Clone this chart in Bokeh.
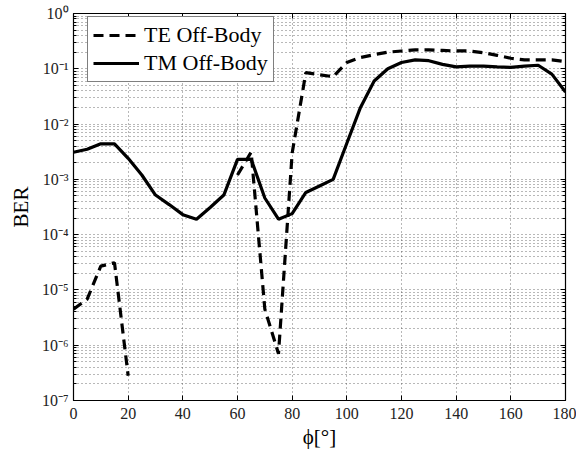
import math
from bokeh.plotting import figure
from bokeh.models import (FixedTicker, LinearAxis, LogAxis, CustomJSTickFormatter,
                          Legend, LegendItem, ColumnDataSource, Range1d)
from bokeh.embed import file_html
from bokeh.resources import INLINE

nan = float("nan")

phi = list(range(0, 181, 5))

te_ber = [4.5e-6, 6.8e-6, 2.7e-5, 3.1e-5, 2.8e-7,
          nan, nan, nan, nan, nan, nan, nan,
          1.2e-3, 3.1e-3, 4.5e-6, 7e-7, 3e-3, 8.5e-2, 7.8e-2, 7.2e-2,
          1.3e-1, 1.6e-1, 1.8e-1, 2.0e-1, 2.1e-1, 2.2e-1, 2.2e-1, 2.15e-1,
          2.1e-1, 2.1e-1, 1.95e-1, 1.75e-1, 1.55e-1, 1.45e-1, 1.45e-1, 1.45e-1, 1.35e-1]

tm_ber = [3.1e-3, 3.5e-3, 4.4e-3, 4.4e-3, 2.4e-3, 1.2e-3, 5.2e-4, 3.5e-4, 2.3e-4,
          1.9e-4, 3.1e-4, 5.2e-4, 2.3e-3, 2.3e-3, 4.6e-4, 1.9e-4, 2.4e-4, 5.8e-4,
          7.6e-4, 1.0e-3, 4.5e-3, 2.0e-2, 6.0e-2, 1.0e-1, 1.3e-1, 1.45e-1, 1.4e-1,
          1.2e-1, 1.08e-1, 1.12e-1, 1.12e-1, 1.08e-1, 1.06e-1, 1.12e-1, 1.16e-1,
          8.0e-2, 3.8e-2]

x_ticks = [0, 20, 40, 60, 80, 100, 120, 140, 160, 180]
y_decades = list(range(-7, 1))

FONT = "Liberation Serif"

major_y = [10.0 ** d for d in y_decades]
minor_y = [k * 10.0 ** d for d in y_decades[:-1] for k in range(2, 10)]
y_ticker = FixedTicker(ticks=major_y, minor_ticks=minor_y)
x_ticker = FixedTicker(ticks=x_ticks)

fmt_code = """
const e = Math.round(Math.log10(tick));
const sup = {'-':'\u207b','0':'\u2070','1':'\u00b9','2':'\u00b2','3':'\u00b3','4':'\u2074',
             '5':'\u2075','6':'\u2076','7':'\u2077','8':'\u2078','9':'\u2079'};
return '10' + String(e).split('').map(c => sup[c]).join('');
"""

p = figure(width=576, height=452, y_axis_type="log",
           x_range=Range1d(0, 180), y_range=Range1d(1e-7, 1),
           output_backend="svg", toolbar_location=None,
           min_border_left=73, min_border_right=11, min_border_top=13, min_border_bottom=52)

p.background_fill_color = "white"
p.border_fill_color = "white"
p.outline_line_color = "black"
p.outline_line_width = 1.2

src = ColumnDataSource(dict(phi=phi, te=te_ber, tm=tm_ber))
r_te = p.line("phi", "te", source=src, line_color="black", line_width=3.2, line_dash="10 6")
r_tm = p.line("phi", "tm", source=src, line_color="black", line_width=3.2)

# axes
xa = p.xaxis[0]
xa.ticker = x_ticker
xa.axis_label = "\u03d5[\u00b0]"
ya = p.yaxis[0]
ya.ticker = y_ticker
ya.formatter = CustomJSTickFormatter(code=fmt_code)
ya.axis_label = "BER"

for ax in (xa, ya):
    ax.axis_line_color = None
    ax.major_tick_in = 5
    ax.major_tick_out = 0
    ax.minor_tick_in = 3
    ax.minor_tick_out = 0
    ax.major_tick_line_color = "black"
    ax.minor_tick_line_color = "black"
    ax.major_label_text_font = FONT
    ax.major_label_text_font_size = "16px"
    ax.major_label_text_color = "#222"
    ax.axis_label_text_font = FONT
    ax.axis_label_text_font_size = "21px"
    ax.axis_label_text_font_style = "normal"
    ax.axis_label_text_color = "black"
xa.minor_tick_line_color = None
xa.major_label_standoff = 7
xa.axis_label_standoff = 3
ya.major_label_standoff = 5
ya.axis_label_standoff = 6

blank = CustomJSTickFormatter(code="return '';")
top = LinearAxis(ticker=x_ticker, formatter=blank, major_tick_in=5,
                 major_tick_out=0, minor_tick_line_color=None, axis_line_color=None,
                 major_label_standoff=0)
right = LogAxis(ticker=y_ticker, formatter=blank, major_tick_in=5,
                major_tick_out=0, minor_tick_in=3, minor_tick_out=0, axis_line_color=None,
                major_label_standoff=0)
p.add_layout(top, "above")
p.add_layout(right, "right")

# grid
p.xgrid.ticker = x_ticker
p.ygrid.ticker = y_ticker
for g in (p.xgrid[0], p.ygrid[0]):
    g.grid_line_color = "#333"
    g.grid_line_alpha = 0.7
    g.grid_line_dash = "1 3"
    g.grid_line_width = 1
p.ygrid.minor_grid_line_color = "#333"
p.ygrid.minor_grid_line_alpha = 0.7
p.ygrid.minor_grid_line_dash = "1 3"

legend = Legend(items=[LegendItem(label="TE Off-Body", renderers=[r_te]),
                       LegendItem(label="TM Off-Body", renderers=[r_tm])],
                location=(14, 318))
legend.margin = 0
legend.padding = 5
legend.spacing = 2
legend.glyph_width = 46
legend.glyph_height = 26
legend.label_height = 26
legend.label_standoff = 5
legend.label_text_font = FONT
legend.label_text_font_size = "22px"
legend.label_text_color = "black"
legend.border_line_color = "black"
legend.border_line_width = 1
legend.background_fill_alpha = 1
p.add_layout(legend)

open("out.html", "w").write(file_html(p, INLINE))
